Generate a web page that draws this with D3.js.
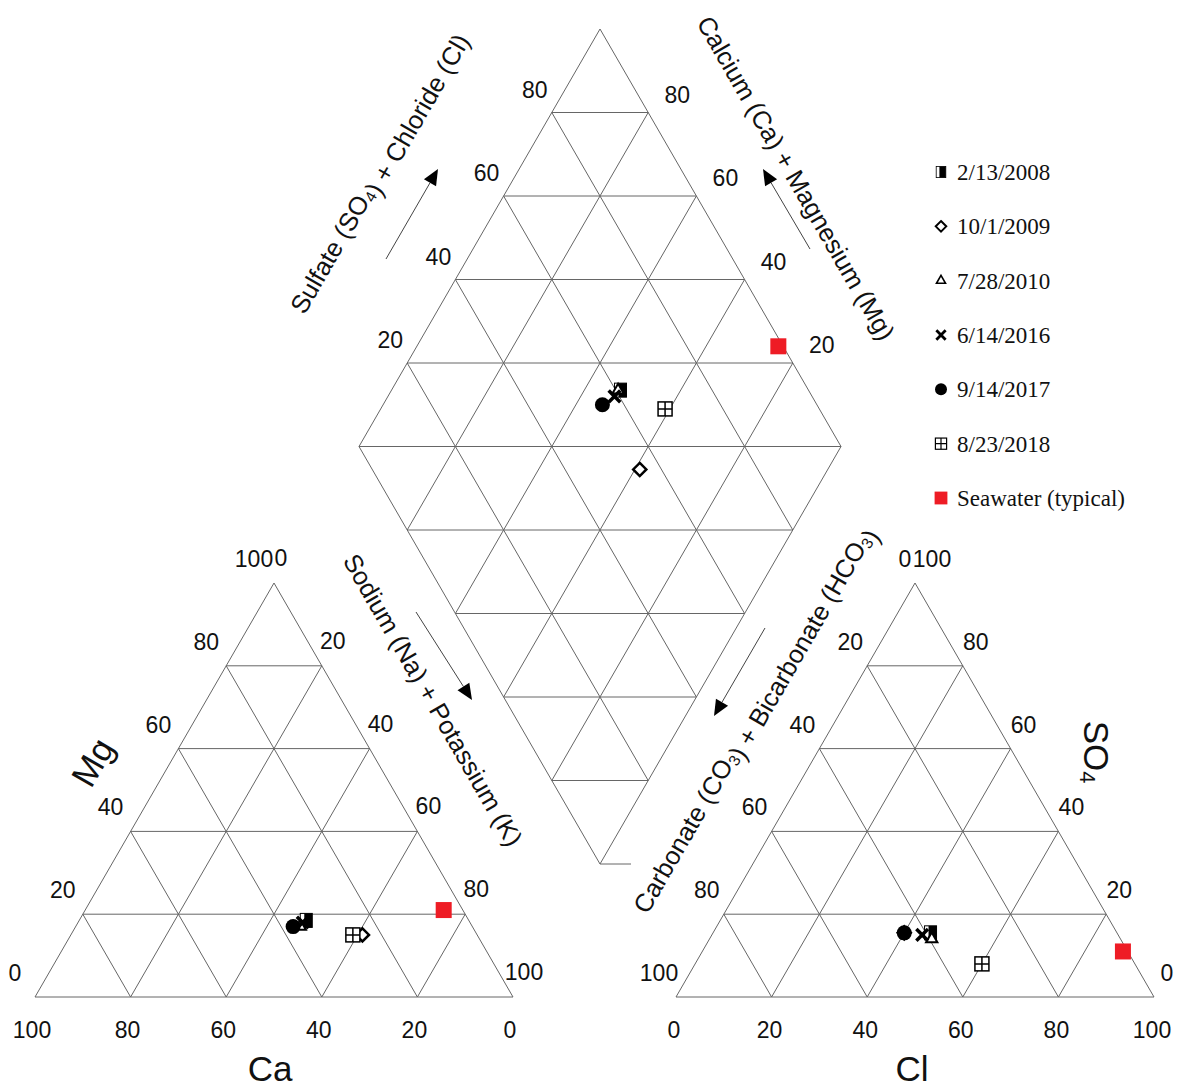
<!DOCTYPE html>
<html>
<head>
<meta charset="utf-8">
<script src="https://cdn.jsdelivr.net/npm/d3@7"></script>
<style>
  body { margin: 0; background: #fff; }
  text { font-family: "Liberation Sans", Arial, sans-serif; fill: #111; }
  .legend text { font-family: "Liberation Serif", "Times New Roman", serif; }
</style>
</head>
<body>
<svg id="chart" width="1183" height="1089"></svg>
<script>
// sample names (legend order)
const samples = ["2/13/2008", "10/1/2009", "7/28/2010", "6/14/2016", "9/14/2017", "8/23/2018", "Seawater (typical)"];
// cations, percent of meq
const ca   = [34, 24, 36, 35, 37.5, 26, 4];
const mg   = [18.5, 15, 17, 18, 17, 15, 21];
const naK  = [47.5, 61, 47, 47, 45.5, 59, 75];
// anions, percent of meq
const hco3 = [39, 44.5, 39.5, 41, 44.5, 32, 1];
const so4  = [15.5, 15.5, 14, 15, 15.5, 8, 11];
const cl   = [45.5, 40, 46.5, 44, 40, 60, 88];

const ticks = [0, 20, 40, 60, 80, 100];
const gridSteps = [20, 40, 60, 80];

const svg = d3.select('#chart');
svg.append('rect').attr('width', 1183).attr('height', 1089).attr('fill', '#fff');

const LINE = '#666';

// scales for the two ternary triangles and the diamond
const xLeft  = d3.scaleLinear().domain([0, 100]).range([35, 513]);
const xRight = d3.scaleLinear().domain([0, 100]).range([676, 1154]);
const yTri   = d3.scaleLinear().domain([0, 100]).range([997, 583]);
const xDia   = d3.scaleLinear().domain([-100, 100]).range([359, 841]);
const yDia   = d3.scaleLinear().domain([0, 200]).range([864, 29]);

// ternary -> screen; b is the base component going right, t the apex one
const triPos = (xs, b, t) => [xs(b + t / 2), yTri(t)];
// diamond: a = Ca+Mg, s = SO4+Cl
const diaPos = (a, s) => [xDia(s - a), yDia(a + s)];

const rows = samples.map((name, i) => ({
    name, i,
    left: triPos(xLeft, naK[i], mg[i]),
    right: triPos(xRight, cl[i], so4[i]),
    dia: diaPos(ca[i] + mg[i], so4[i] + cl[i])
}));

const g = svg.append('g');

function seg(p, q) {
    g.append('line')
    .attr('x1', p[0]).attr('y1', p[1])
    .attr('x2', q[0]).attr('y2', q[1])
    .attr('stroke', LINE).attr('stroke-width', 1);
}

// triangle grids: outline plus lines every 20 %
function drawTriangle(xs) {
    seg(triPos(xs, 0, 0), triPos(xs, 100, 0));
    seg(triPos(xs, 100, 0), triPos(xs, 0, 100));
    seg(triPos(xs, 0, 100), triPos(xs, 0, 0));
    gridSteps.forEach(v => {
        seg(triPos(xs, 0, v), triPos(xs, 100 - v, v));
        seg(triPos(xs, v, 0), triPos(xs, v, 100 - v));
        seg(triPos(xs, 100 - v, 0), triPos(xs, 0, 100 - v));
    });
}
drawTriangle(xLeft);
drawTriangle(xRight);

// diamond outline and grid
seg(diaPos(0, 0), diaPos(100, 0));
seg(diaPos(100, 0), diaPos(100, 100));
seg(diaPos(100, 100), diaPos(0, 100));
seg(diaPos(0, 100), diaPos(0, 0));
gridSteps.forEach(v => {
    seg(diaPos(v, 0), diaPos(v, 100));
    seg(diaPos(0, v), diaPos(100, v));
});
d3.range(20, 200, 20).forEach(s => {
    seg(diaPos(Math.min(s, 100), Math.max(0, s - 100)), diaPos(Math.max(0, s - 100), Math.min(s, 100)));
});
// little stub at the bottom corner, as in the original
seg(diaPos(0, 0), [diaPos(0, 0)[0] + 31, diaPos(0, 0)[1]]);

// tick labels
const tickG = svg.append('g').attr('font-size', 23).attr('text-anchor', 'middle').attr('dominant-baseline', 'central');
function tick(p, dx, dy, txt) {
    tickG.append('text').attr('x', p[0] + dx).attr('y', p[1] + dy).text(txt);
}
ticks.forEach(v => {
    // left triangle
    tick(triPos(xLeft, 0, v), -20, -24, v);            // Mg
    tick(triPos(xLeft, v, 100 - v), v === 0 ? 7 : 11, -25, v);  // Na + K
    tick(triPos(xLeft, 100 - v, 0), -3, 33, v);        // Ca
    // right triangle
    tick(triPos(xRight, v, 0), -2, 33, v);             // Cl
    tick(triPos(xRight, 100 - v, v), v === 100 ? 17 : 13, -24, v);  // SO4
    tick(triPos(xRight, 0, 100 - v), v === 0 ? -10 : -17, -24, v);  // HCO3
});
gridSteps.forEach(v => {
    tick(diaPos(100, v), -17, -23, v);   // SO4 + Cl
    tick(diaPos(v, 100), 29, -18, v);    // Ca + Mg
});

// axis titles
function title(x, y, rot, size, parts) {
    const t = svg.append('text')
    .attr('transform', `translate(${x},${y}) rotate(${rot})`)
    .attr('text-anchor', 'middle')
    .attr('dominant-baseline', 'central')
    .attr('font-size', size);
    parts.forEach(p => {
        if (p.sub) {
            t.append('tspan').attr('font-size', size * 0.62).attr('dy', size * 0.25).text(p.sub);
            t.append('tspan').attr('dy', -size * 0.25).text('');
        } else {
            t.append('tspan').text(p.t);
        }
    });
}
title(92, 762, -60, 35, [{t: 'Mg'}]);
title(270, 1068, 0, 35, [{t: 'Ca'}]);
title(912, 1068, 0, 35, [{t: 'Cl'}]);
title(1097, 752, 90, 35, [{t: 'SO'}, {sub: '4'}]);
title(377, 172, -60, 25.5, [{t: 'Sulfate (SO'}, {sub: '4'}, {t: ') + Chloride (Cl)'}]);
title(796, 178, 60, 25.5, [{t: 'Calcium (Ca) + Magnesium (Mg)'}]);
title(433, 700, 60, 25.5, [{t: 'Sodium (Na) + Potassium (K)'}]);
title(751, 718, -60, 25.5, [{t: 'Carbonate (CO'}, {sub: '3'}, {t: ') + Bicarbonate (HCO'}, {sub: '3'}, {t: ')'}]);

// direction arrows
function arrow(x1, y1, x2, y2) {
    const ang = Math.atan2(y2 - y1, x2 - x1), L = 16, W = 7;
    const bx = x2 - L * Math.cos(ang), by = y2 - L * Math.sin(ang);
    svg.append('line').attr('x1', x1).attr('y1', y1).attr('x2', bx).attr('y2', by)
    .attr('stroke', '#444').attr('stroke-width', 1);
    const px = -Math.sin(ang) * W, py = Math.cos(ang) * W;
    svg.append('path')
    .attr('d', `M${x2},${y2}L${bx + px},${by + py}L${bx - px},${by - py}Z`)
    .attr('fill', '#000');
}
arrow(386, 259, 438, 169);
arrow(810, 249, 763, 169);
arrow(416, 612, 472, 700);
arrow(765, 628, 714, 716);

// marker drawing
function marker(sel, i) {
    if (i === 0) {          // half filled bar
        sel.append('rect').attr('x', -6).attr('y', -7).attr('width', 12).attr('height', 14)
        .attr('fill', '#fff').attr('stroke', '#000').attr('stroke-width', 1);
        sel.append('rect').attr('x', -2).attr('y', -7).attr('width', 8).attr('height', 14).attr('fill', '#000');
    } else if (i === 1) {   // open diamond
        sel.append('path').attr('d', d3.symbol(d3.symbolDiamond2, 110)())
        .attr('fill', '#fff').attr('stroke', '#000').attr('stroke-width', 2.5);
    } else if (i === 2) {   // open triangle
        sel.append('path').attr('d', d3.symbol(d3.symbolTriangle, 55)())
        .attr('fill', '#fff').attr('stroke', '#000').attr('stroke-width', 2);
    } else if (i === 3) {   // x
        sel.append('path').attr('d', d3.symbol(d3.symbolX, 90)())
        .attr('fill', 'none').attr('stroke', '#000').attr('stroke-width', 3.5);
    } else if (i === 4) {   // filled circle
        sel.append('circle').attr('r', 7.5).attr('fill', '#000');
    } else if (i === 5) {   // square with plus
        sel.append('rect').attr('x', -7).attr('y', -7).attr('width', 14).attr('height', 14)
        .attr('fill', '#fff').attr('stroke', '#000').attr('stroke-width', 1.5);
        sel.append('path').attr('d', 'M-7,0H7M0,-7V7').attr('stroke', '#000').attr('stroke-width', 1.5);
    } else {                // seawater
        sel.append('rect').attr('x', -8).attr('y', -8).attr('width', 16).attr('height', 16).attr('fill', '#ee1c25');
    }
}

// plot points in all three fields
['left', 'right', 'dia'].forEach(key => {
    svg.append('g').selectAll('g')
    .data(rows)
    .enter()
    .append('g')
    .attr('transform', d => `translate(${d[key][0]},${d[key][1]})`)
    .each(function(d) { marker(d3.select(this), d.i); });
});

// legend
const legY = d3.scalePoint().domain(samples).range([172, 498]);
const leg = svg.append('g').attr('class', 'legend')
.selectAll('g')
.data(rows)
.enter()
.append('g')
.attr('transform', d => `translate(941,${legY(d.name)})`);
leg.each(function(d) {
    const s = d3.select(this).append('g').attr('transform', 'scale(0.8)');
    marker(s, d.i);
});
leg.append('text')
.attr('x', 16).attr('y', 8)
.attr('font-size', 23)
.text(d => d.name);
</script>
</body>
</html>
